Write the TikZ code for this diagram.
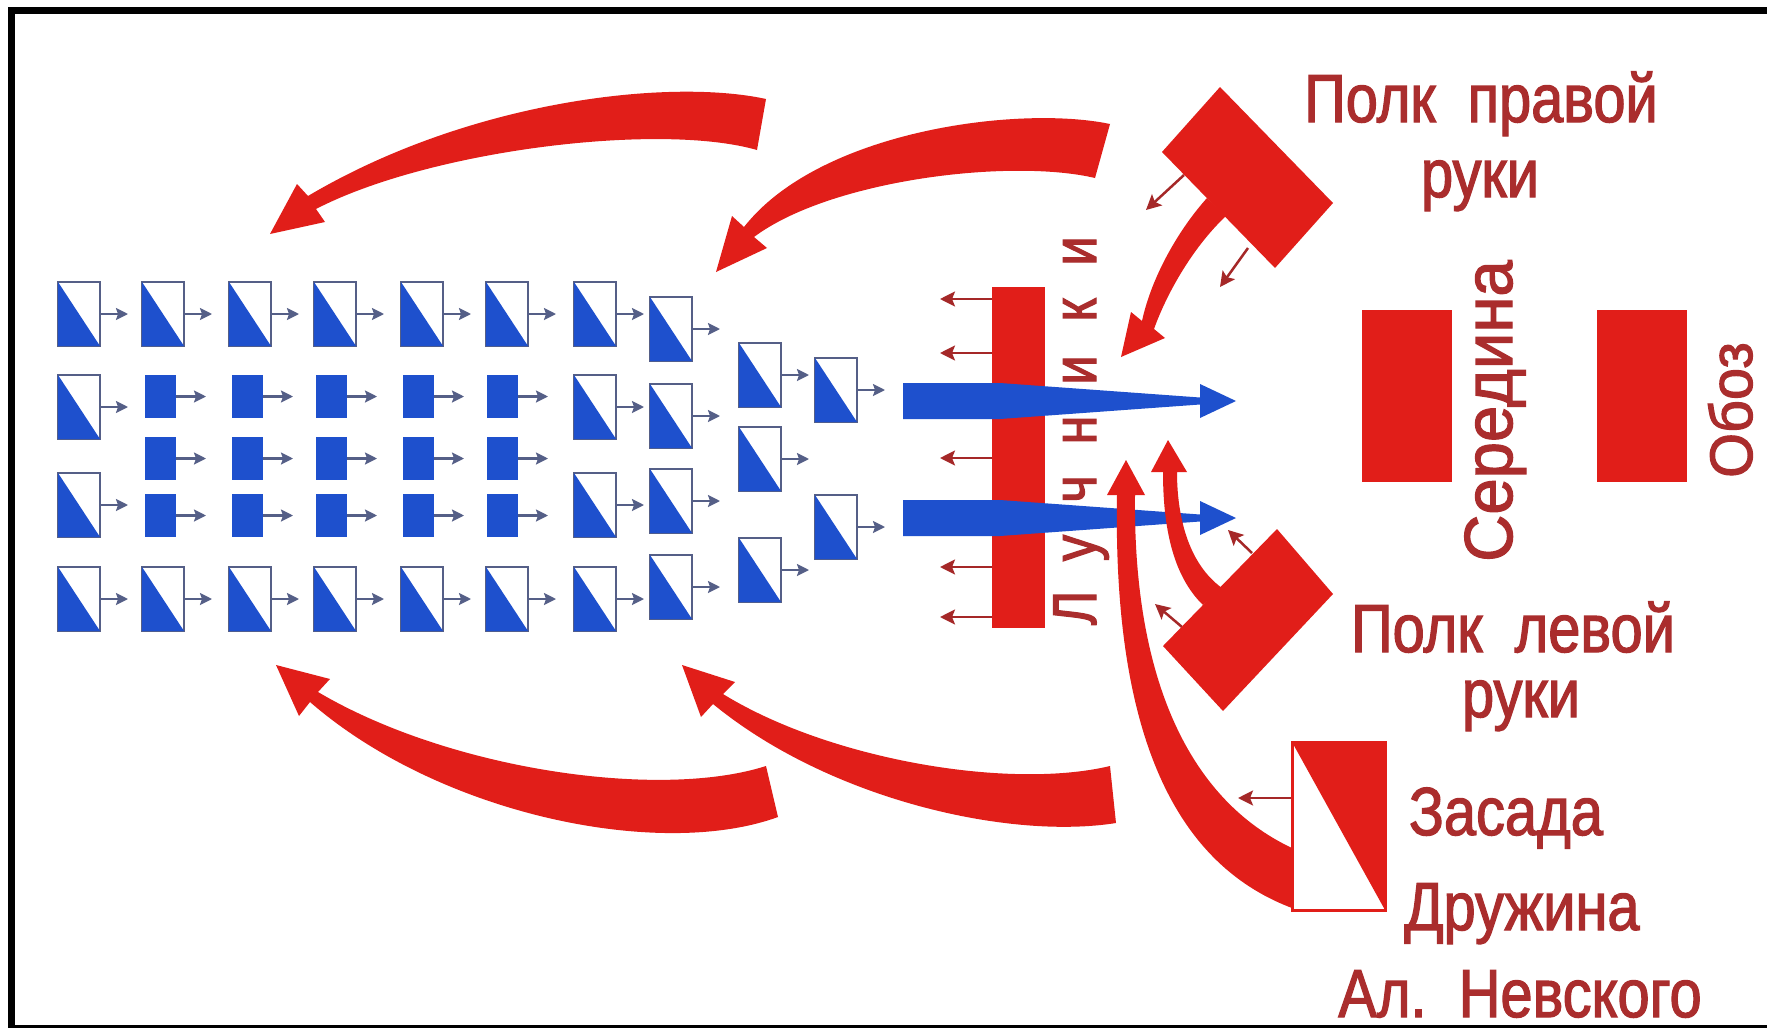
\documentclass[tikz,border=0pt]{standalone}
\usepackage{fontspec}
\usepackage{tikz}
\usetikzlibrary{arrows.meta}
\newfontfamily\labelfont[FakeStretch=0.85,FakeBold=1.8]{Liberation Sans}
\newfontfamily\sidefont[FakeStretch=0.96,FakeBold=1.8]{Liberation Sans}

\definecolor{unitblue}{RGB}{30,80,205}
\definecolor{unitgrey}{RGB}{85,95,135}
\definecolor{armyred}{RGB}{225,30,25}
\definecolor{labelred}{RGB}{170,45,45}
\definecolor{thinred}{RGB}{165,40,40}

\tikzset{
  unitline/.style={draw=unitgrey, line width=2.5pt},
  unitarrow/.style={draw=unitgrey, line width=2.2pt, -{Stealth[length=12pt,width=12pt,inset=2pt]}},
  thinarrow/.style={draw=thinred, line width=2.5pt, -{Stealth[length=15pt,width=15pt,inset=3pt]}},
  lbl/.style={text=labelred, font=\labelfont\fontsize{68}{68}\selectfont, inner sep=0pt, anchor=base},
  sidelbl/.style={text=labelred, font=\sidefont\fontsize{68}{68}\selectfont, inner sep=0pt, anchor=base, rotate=90},
  archer/.style={text=labelred, font=\labelfont\fontsize{62}{62}\selectfont, inner sep=0pt, anchor=base, rotate=90},
}

% half-filled unit (top-left corner) and full unit
\newcommand\diagunit[2]{%
  \draw[unitline] (#1,#2) rectangle ++(42,64);
  \fill[unitblue] (#1,#2) -- ++(0,64) -- ++(42,0) -- cycle;
  \draw[unitarrow] (#1+42,#2+32) -- ++(28,0);
}
\newcommand\solidunit[2]{%
  \fill[unitblue] (#1,#2) rectangle ++(31,43);
  \draw[unitarrow] (#1+31,#2+21.5) -- ++(30,0);
}

\begin{document}
\begin{tikzpicture}[x=1pt,y=-1pt]
\useasboundingbox (0,0) rectangle (1767,1028);
\fill[white] (0,0) rectangle (1767,1028);
\draw[line width=7pt] (1767,10) -- (11.5,10) -- (11.5,1028) -- (1767,1028);

% the wedge of units
\diagunit{58}{282} \diagunit{142}{282} \diagunit{229}{282} \diagunit{314}{282}
\diagunit{401}{282} \diagunit{486}{282} \diagunit{574}{282} \diagunit{650}{297}
\diagunit{58}{375} \solidunit{145}{375} \solidunit{232}{375} \solidunit{316}{375}
\solidunit{403}{375} \solidunit{487}{375} \diagunit{574}{375} \diagunit{650}{384}
\solidunit{145}{437} \solidunit{232}{437} \solidunit{316}{437} \solidunit{403}{437}
\solidunit{487}{437}
\diagunit{58}{473} \solidunit{145}{494} \solidunit{232}{494} \solidunit{316}{494}
\solidunit{403}{494} \solidunit{487}{494} \diagunit{574}{473} \diagunit{650}{469}
\diagunit{58}{567} \diagunit{142}{567} \diagunit{229}{567} \diagunit{314}{567}
\diagunit{401}{567} \diagunit{486}{567} \diagunit{574}{567} \diagunit{650}{555}
\diagunit{739}{343} \diagunit{739}{427} \diagunit{739}{538}
\diagunit{815}{358} \diagunit{815}{495}

% big flanking arrows
\fill[armyred] (766,99) .. controls (670,78) and (470,100) .. (308,196) -- (297,184)
  -- (270,234) -- (325,222) -- (316,209) .. controls (430,150) and (660,122) .. (757,150) -- cycle;
\fill[armyred] (1110,124) .. controls (1020,105) and (820,130) .. (744,227) -- (732,216)
  -- (716,272) -- (767,248) -- (754,237) .. controls (830,180) and (1010,158) .. (1095,178) -- cycle;
\fill[armyred] (778,817) .. controls (660,860) and (440,815) .. (310,702) -- (299,716)
  -- (276,665) -- (330,679) -- (318,692) .. controls (450,770) and (660,800) .. (766,766) -- cycle;
\fill[armyred] (1116,823) .. controls (1010,840) and (830,800) .. (713,704) -- (701,717)
  -- (682,665) -- (735,682) -- (723,694) .. controls (830,760) and (1010,790) .. (1110,766) -- cycle;

% archers
\fill[armyred] (992,287) rectangle (1045,628);

% wedge spearheads
\fill[unitblue] (903,383) -- (1000,383) -- (1200,397.5) -- (1200,384) -- (1236,401)
  -- (1200,418) -- (1200,404.5) -- (1000,419) -- (903,419) -- cycle;
\fill[unitblue] (903,500) -- (1000,500) -- (1200,514.5) -- (1200,501) -- (1236,518)
  -- (1200,535) -- (1200,521.5) -- (1000,536) -- (903,536) -- cycle;

\draw[thinarrow] (992,299) -- (940,299);
\draw[thinarrow] (992,353) -- (940,353);
\draw[thinarrow] (992,458) -- (940,458);
\draw[thinarrow] (992,567) -- (940,567);
\draw[thinarrow] (992,617) -- (940,617);

% wings and ambush strike
\fill[armyred] (1207,198) .. controls (1180,228) and (1152,275) .. (1142,321) -- (1131,312)
  -- (1121,357) -- (1165,338) -- (1154,329) .. controls (1168,290) and (1195,245) .. (1226,216) -- cycle;
\fill[armyred] (1203,605) .. controls (1172,575) and (1163,525) .. (1163,472) -- (1151,472)
  -- (1168,440) -- (1187,472) -- (1177,472) .. controls (1177,520) and (1190,565) .. (1222,588) -- cycle;
\fill[armyred] (1292,908) .. controls (1170,862) and (1113,725) .. (1117,495) -- (1107,495)
  -- (1126,460) -- (1145,495) -- (1135,495) .. controls (1133,680) and (1190,800) .. (1292,848) -- cycle;

\draw[thinarrow] (1184,175) -- (1146,210);
\draw[thinarrow] (1248,248) -- (1220,287);
\draw[thinarrow] (1182,627) -- (1155,604);
\draw[thinarrow] (1252,553) -- (1228,530);
\draw[thinarrow] (1292,798) -- (1238,798);

% regiments
\fill[armyred] (1220,87) -- (1333,203) -- (1275,268) -- (1162,152) -- cycle;
\fill[armyred] (1277,529) -- (1333,594) -- (1223,711) -- (1163,646) -- cycle;
\fill[armyred] (1362,310) rectangle (1452,482);
\fill[armyred] (1597,310) rectangle (1687,482);
\draw[armyred, line width=3pt] (1292,742) rectangle (1385,910);
\fill[armyred] (1292,742) -- (1385,742) -- (1385,910) -- cycle;

% labels
\node[lbl] (pravyj) at (1481,122) {Полк\ \ правой};
\node[lbl] (pravyjruki) at (1480,197) {руки};
\node[lbl] (levyj) at (1513,652) {Полк\ \ левой};
\node[lbl] (levyjruki) at (1521,717) {руки};
\node[lbl] (zasada) at (1506,835) {Засада};
\node[lbl] (druzhina) at (1522,930) {Дружина};
\node[lbl] (nevskij) at (1520,1017) {Ал.\ \ Невского};
\node[sidelbl] (seredina) at (1512,411) {Середина};
\node[sidelbl, font=\sidefont\fontsize{60}{60}\selectfont] (oboz) at (1752,410) {Обоз};
\node[archer] (l1) at (1096,608) {Л};
\node[archer] (l2) at (1096,548) {у};
\node[archer] (l3) at (1096,489) {ч};
\node[archer] (l4) at (1096,430) {н};
\node[archer] (l5) at (1096,370) {и};
\node[archer] (l6) at (1096,310) {к};
\node[archer] (l7) at (1096,251) {и};
\end{tikzpicture}
\end{document}
